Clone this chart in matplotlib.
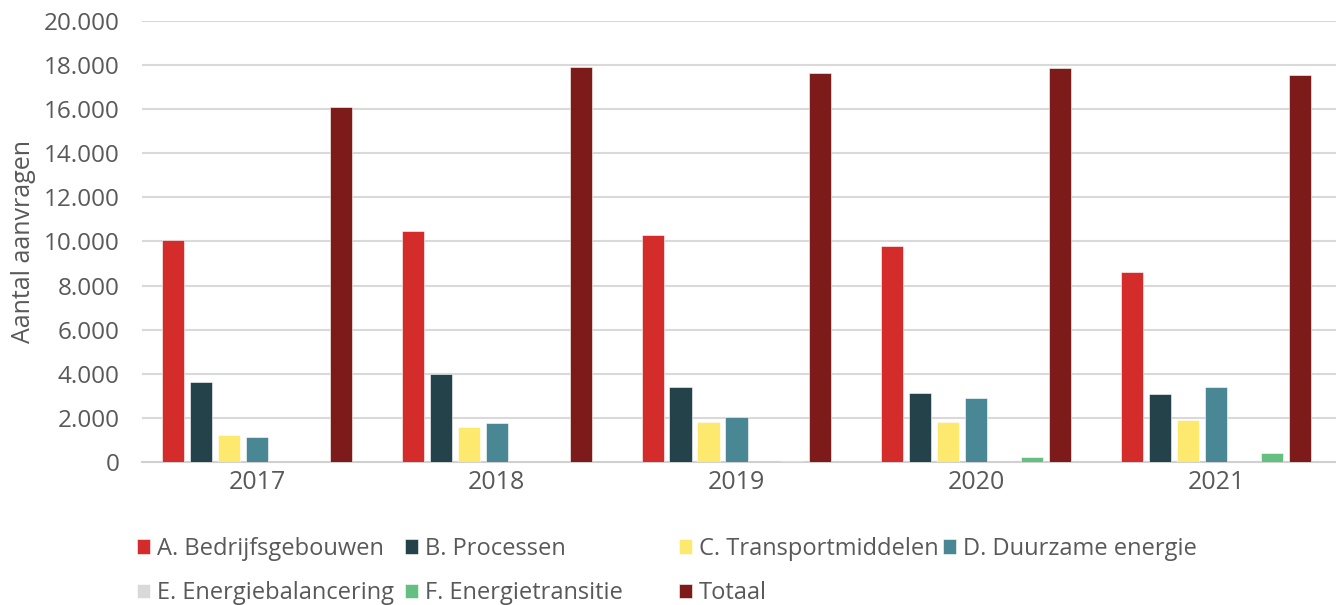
import numpy as np
import matplotlib
matplotlib.use("Agg")
import matplotlib.pyplot as plt
from matplotlib.ticker import FuncFormatter

years = ["2017", "2018", "2019", "2020", "2021"]
series_names = ["A. Bedrijfsgebouwen", "B. Processen", "C. Transportmiddelen",
                "D. Duurzame energie", "E. Energiebalancering", "F. Energietransitie",
                "Totaal"]
bedrijfsgebouwen = [10080, 10480, 10300, 9800, 8620]
processen = [3630, 4000, 3400, 3130, 3090]
transportmiddelen = [1225, 1590, 1810, 1810, 1900]
duurzame_energie = [1130, 1770, 2040, 2900, 3400]
energiebalancering = [0, 0, 0, 0, 0]
energietransitie = [0, 0, 30, 230, 420]
totaal = [16100, 17910, 17640, 17870, 17550]
colors = ["#d42b2b", "#24424a", "#fde96e", "#4a8795", "#d9d9d9", "#64bf80", "#7d1a1a"]

values = [bedrijfsgebouwen, processen, transportmiddelen, duurzame_energie,
          energiebalancering, energietransitie, totaal]

plt.rcParams['font.family'] = ['Open Sans', 'DejaVu Sans']
text_col = "#595959"

fig = plt.figure(figsize=(13.36, 6.05), dpi=100)
ax = fig.add_axes([0.1063, 0.2364, 0.8937, 0.7289])

x = np.arange(len(years))
step = 0.1167
width = 0.092
handles = []
for i, (vals, col) in enumerate(zip(values, colors)):
    offset = (i - 3) * step
    b = ax.bar(x + offset, vals, width, color=col, edgecolor="white", linewidth=0.4,
               label=series_names[i], zorder=3)
    handles.append(b)

ax.set_xlim(-0.479, 4.5)
ax.set_ylim(0, 20000)
ax.set_yticks(range(0, 20001, 2000))
ax.yaxis.set_major_formatter(FuncFormatter(lambda v, p: f"{int(v):,}".replace(",", ".")))
ax.set_xticks(x)
ax.set_xticklabels(years)
ax.grid(axis="y", color="#d9d9d9", linewidth=1.5, zorder=0)
for s in ["top", "right", "left"]:
    ax.spines[s].set_visible(False)
ax.spines["bottom"].set_color("#d0d0d0")
ax.spines["bottom"].set_linewidth(1.5)
ax.tick_params(axis="both", length=0, labelsize=17.5, colors=text_col)
ax.tick_params(axis="x", labelsize=18, pad=6)
ax.tick_params(axis="y", pad=16)
ax.set_ylabel("Aantal aanvragen", fontsize=18, color=text_col, labelpad=6)

# legend: 4 equal-width columns like Excel
columns = [[0, 4], [1, 5], [2, 6], [3]]
col_x = [0.1025, 0.303, 0.508, 0.706]
for idx, cx in zip(columns, col_x):
    leg = fig.legend([handles[i] for i in idx], [series_names[i] for i in idx],
                     loc="upper left", bbox_to_anchor=(cx, 0.1125),
                     frameon=False, fontsize=17, handlelength=0.55, handleheight=0.55,
                     handletextpad=0.3, labelspacing=0.85, borderpad=0,
                     borderaxespad=0)
    for t in leg.get_texts():
        t.set_color(text_col)

fig.savefig("out.png", dpi=100)
